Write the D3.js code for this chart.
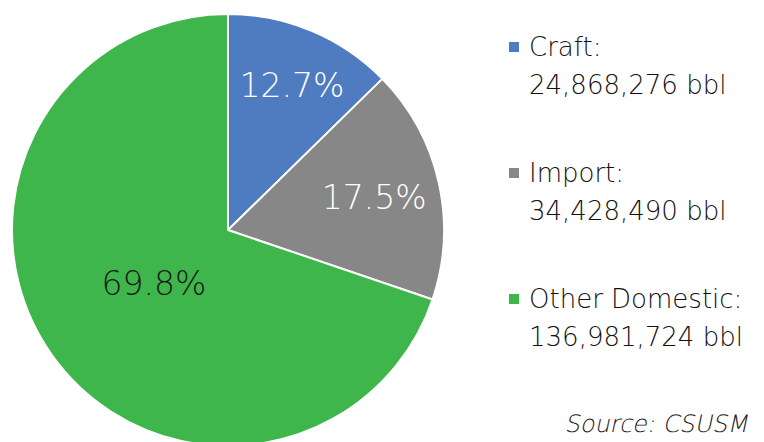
<!DOCTYPE html>
<html><head><meta charset="utf-8">
<script src="https://cdn.jsdelivr.net/npm/d3@7"></script>
<style>body{margin:0;background:#fff}svg{display:block}text{font-family:"DejaVu Sans",sans-serif}</style>
</head><body>
<svg id="c" width="764" height="442"></svg>
<script>
const categories = ["Craft", "Import", "Other Domestic"];
const values = [24868276, 34428490, 136981724];
const colors = ["#4F7CC1", "#878787", "#3FB64B"];
const pctLabels = ["12.7%", "17.5%", "69.8%"];
const legendValues = ["24,868,276 bbl", "34,428,490 bbl", "136,981,724 bbl"];
const sourceText = "Source: CSUSM";

const svg = d3.select("#c");
const cx = 228, cy = 230, R = 216;
const labelR = [157, 150, 91];
const labelColors = ["#fff", "#fff", "#1a1a1a"];

const pie = d3.pie().sort(null).value(d => d)(values);
const arc = d3.arc().innerRadius(0).outerRadius(R);
const g = svg.append("g").attr("transform", `translate(${cx},${cy})`);
g.selectAll("path").data(pie).join("path")
  .attr("d", arc).attr("fill", (d, i) => colors[i])
  .attr("stroke", "#fff").attr("stroke-width", 2).attr("stroke-linejoin", "round");
g.selectAll("text.lbl").data(pie).join("text").attr("class", "lbl")
  .attr("transform", (d, i) => {
    const c = d3.arc().innerRadius(labelR[i]).outerRadius(labelR[i]).centroid(d);
    return `translate(${c[0] + (i === 0 ? 3 : 0)},${c[1]})`;
  })
  .attr("text-anchor", "middle").attr("dy", "0.36em")
  .attr("font-size", 33).attr("font-weight", 200).attr("fill", (d, i) => labelColors[i])
  .text((d, i) => pctLabels[i]);

const lg = svg.append("g");
const legY = [47, 173, 299];
categories.forEach((c, i) => {
  lg.append("rect").attr("x", 509).attr("y", legY[i] - 5).attr("width", 10).attr("height", 10).attr("fill", colors[i]);
  lg.append("text").attr("x", 529).attr("y", legY[i]).attr("dy", "0.36em").attr("font-size", 26).attr("font-weight", 200).attr("fill", "#111").text(c + ":");
  lg.append("text").attr("x", 529).attr("y", legY[i] + 38).attr("dy", "0.36em").attr("font-size", 26).attr("font-weight", 200).attr("fill", "#111").text(legendValues[i]);
});
svg.append("g").attr("transform", "translate(748,432) skewX(-12)")
  .append("text").attr("x", 0).attr("y", 0).attr("text-anchor", "end")
  .attr("font-size", 24).attr("font-weight", 200).attr("fill", "#222").text(sourceText);
</script>
</body></html>
